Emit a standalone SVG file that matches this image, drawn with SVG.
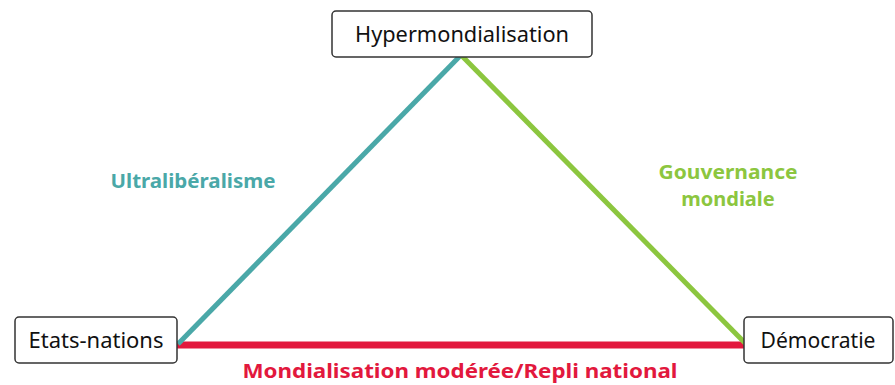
<svg xmlns="http://www.w3.org/2000/svg" width="895" height="385" viewBox="0 0 895 385">
<style>
.box{fill:#fff;stroke:#333;stroke-width:1.5}
.lbl{font-family:"Noto Sans","Liberation Sans",sans-serif;font-size:22px;fill:#111;text-anchor:middle}
.edge{font-family:"Noto Sans","Liberation Sans",sans-serif;font-weight:bold;font-size:20px;text-anchor:middle}
</style>
<rect width="895" height="385" fill="#fff"/>
<g id="connectors">
<line x1="177" y1="345" x2="744" y2="345" stroke="#e2183d" stroke-width="7"/>
<line x1="178" y1="344" x2="460" y2="56" stroke="#4aa8a8" stroke-width="5"/>
<line x1="462" y1="56" x2="746" y2="344" stroke="#8cc63f" stroke-width="5"/>
<text class="edge" x="193" y="188" fill="#4aa8a8" textLength="165" lengthAdjust="spacingAndGlyphs">Ultralibéralisme</text>
<text class="edge" x="728" y="179" fill="#8cc63f" textLength="139" lengthAdjust="spacingAndGlyphs">Gouvernance</text>
<text class="edge" x="728" y="206" fill="#8cc63f">mondiale</text>
<text class="edge" x="460" y="378" fill="#e2183d" font-size="21" textLength="435" lengthAdjust="spacingAndGlyphs">Mondialisation modérée/Repli national</text>
</g>
<g id="hypermondialisation">
<rect class="box" x="332" y="11" width="260" height="46" rx="4"/>
<text class="lbl" x="462" y="42" textLength="214" lengthAdjust="spacingAndGlyphs">Hypermondialisation</text>
</g>
<g id="etats-nations">
<rect class="box" x="15" y="317" width="162" height="46" rx="4"/>
<text class="lbl" x="96" y="348" textLength="135" lengthAdjust="spacingAndGlyphs">Etats-nations</text>
</g>
<g id="democratie">
<rect class="box" x="744" y="317" width="149" height="46" rx="4"/>
<text class="lbl" x="818" y="348" textLength="115" lengthAdjust="spacingAndGlyphs">Démocratie</text>
</g>
</svg>
